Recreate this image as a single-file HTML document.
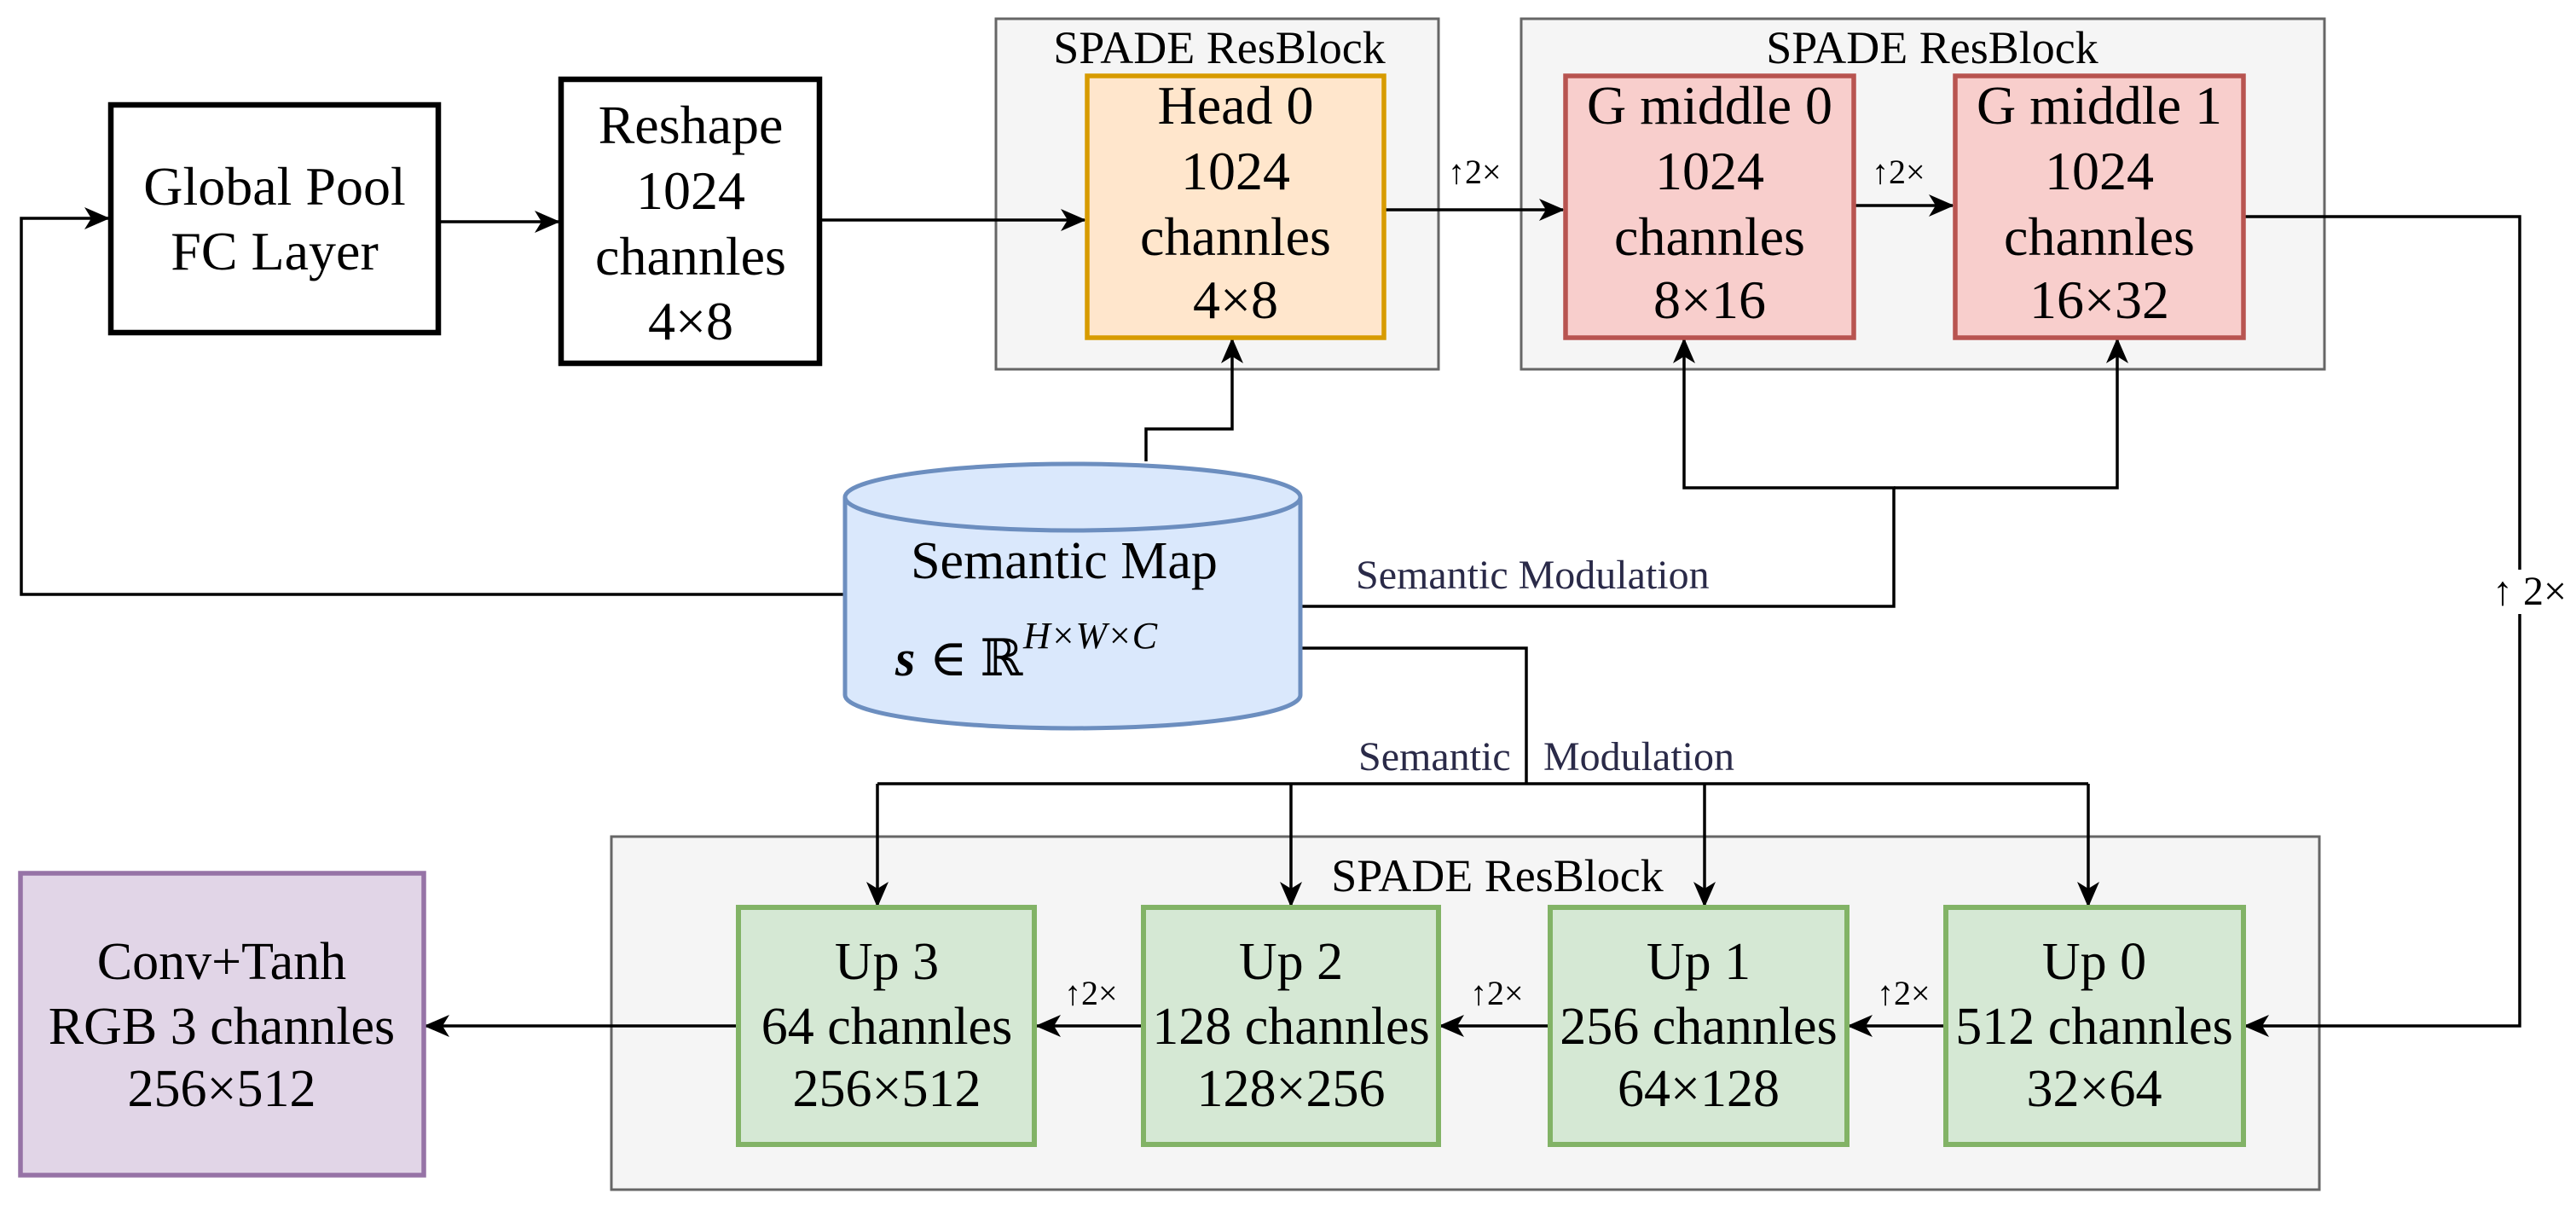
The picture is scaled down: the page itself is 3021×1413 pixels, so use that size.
<!DOCTYPE html>
<html><head><meta charset="utf-8"><style>
html,body{margin:0;padding:0;background:#fff;}
svg{display:block;font-family:"Liberation Serif","DejaVu Serif",serif;}
svg text, svg tspan{font-family:"Liberation Serif","DejaVu Serif",serif;}
</style></head><body>
<svg width="3021" height="1413" viewBox="0 0 3021 1413" xmlns="http://www.w3.org/2000/svg" font-family="Liberation Serif, serif">
<defs>
<marker id="a" viewBox="0 0 30 30" refX="28" refY="15" markerWidth="30" markerHeight="30" markerUnits="userSpaceOnUse" orient="auto">
<path d="M0,2 L30,15 L0,28 L8,15 Z" fill="#000"/>
</marker>
</defs>
<rect width="3021" height="1413" fill="#fff"/>

<rect x="1168" y="22" width="519" height="411" fill="#f5f5f5" stroke="#666" stroke-width="3"/>
<rect x="1784" y="22" width="942" height="411" fill="#f5f5f5" stroke="#666" stroke-width="3"/>
<rect x="717" y="981" width="2003" height="414" fill="#f5f5f5" stroke="#666" stroke-width="3"/>
<text x="1430" y="74" font-size="54" text-anchor="middle" font-family="Liberation Serif, serif">SPADE ResBlock</text>
<text x="2266" y="74" font-size="54" text-anchor="middle" font-family="Liberation Serif, serif">SPADE ResBlock</text>
<text x="1756" y="1045" font-size="54" text-anchor="middle" font-family="Liberation Serif, serif">SPADE ResBlock</text>

<g stroke="#000" stroke-width="3.5" fill="none">
<path d="M1040,697 H25 V256 H127" marker-end="url(#a)"/>
<path d="M514,260 H655" marker-end="url(#a)"/>
<path d="M961,258 H1272" marker-end="url(#a)"/>
<path d="M1623,246 H1833" marker-end="url(#a)"/>
<path d="M2174,241 H2290" marker-end="url(#a)"/>
<path d="M2631,254 H2955 V668"/>
<path d="M2955,720 V1203 H2633" marker-end="url(#a)"/>
<path d="M1344,541 V503 H1445 V398" marker-end="url(#a)"/>
<path d="M1526,711 H2221 V572 H1975 V398" marker-end="url(#a)"/>
<path d="M2221,572 H2483 V398" marker-end="url(#a)"/>
<path d="M1526,760 H1790 V919"/>
<path d="M1029,919 H2449"/>
<path d="M1029,919 V1062" marker-end="url(#a)"/>
<path d="M1514,919 V1062" marker-end="url(#a)"/>
<path d="M1999,919 V1062" marker-end="url(#a)"/>
<path d="M2449,919 V1062" marker-end="url(#a)"/>
<path d="M2282,1203 H2168" marker-end="url(#a)"/>
<path d="M1818,1203 H1689" marker-end="url(#a)"/>
<path d="M1340,1203 H1216" marker-end="url(#a)"/>
<path d="M866,1203 H499" marker-end="url(#a)"/>
</g>

<rect x="130" y="123" width="384" height="267" fill="#fff" stroke="#000" stroke-width="6.5"/>
<text font-size="64" text-anchor="middle" x="322" y="240" font-family="Liberation Serif, serif">Global Pool</text>
<text font-size="64" text-anchor="middle" x="322" y="316" font-family="Liberation Serif, serif">FC Layer</text>

<rect x="658" y="93" width="303" height="333" fill="#fff" stroke="#000" stroke-width="6.5"/>
<g font-size="64" text-anchor="middle" font-family="Liberation Serif, serif">
<text x="810" y="168">Reshape</text><text x="810" y="245">1024</text><text x="810" y="322">channles</text><text x="810" y="398">4×8</text>
</g>

<rect x="1275" y="89" width="348" height="307" fill="#ffe6cc" stroke="#d79b00" stroke-width="5.5"/>
<g font-size="64" text-anchor="middle" font-family="Liberation Serif, serif">
<text x="1449" y="145">Head 0</text><text x="1449" y="222">1024</text><text x="1449" y="299">channles</text><text x="1449" y="373">4×8</text>
</g>

<rect x="1836" y="89" width="338" height="307" fill="#f8cecc" stroke="#b85450" stroke-width="5.5"/>
<g font-size="64" text-anchor="middle" font-family="Liberation Serif, serif">
<text x="2005" y="145">G middle 0</text><text x="2005" y="222">1024</text><text x="2005" y="299">channles</text><text x="2005" y="373">8×16</text>
</g>

<rect x="2293" y="89" width="338" height="307" fill="#f8cecc" stroke="#b85450" stroke-width="5.5"/>
<g font-size="64" text-anchor="middle" font-family="Liberation Serif, serif">
<text x="2462" y="145">G middle 1</text><text x="2462" y="222">1024</text><text x="2462" y="299">channles</text><text x="2462" y="373">16×32</text>
</g>

<rect x="24" y="1024" width="473" height="354" fill="#e1d5e7" stroke="#9673a6" stroke-width="5.5"/>
<g font-size="62" text-anchor="middle" font-family="Liberation Serif, serif">
<text x="260" y="1148">Conv+Tanh</text><text x="260" y="1224">RGB 3 channles</text><text x="260" y="1297">256×512</text>
</g>

<g fill="#d5e8d4" stroke="#82b366" stroke-width="6">
<rect x="866" y="1064" width="347" height="278"/>
<rect x="1341" y="1064" width="346" height="278"/>
<rect x="1818" y="1064" width="348" height="278"/>
<rect x="2282" y="1064" width="349" height="278"/>
</g>
<g font-size="62" text-anchor="middle" font-family="Liberation Serif, serif">
<text x="1040" y="1148">Up 3</text><text x="1040" y="1224">64 channles</text><text x="1040" y="1297">256×512</text>
<text x="1514" y="1148">Up 2</text><text x="1514" y="1224">128 channles</text><text x="1514" y="1297">128×256</text>
<text x="1992" y="1148">Up 1</text><text x="1992" y="1224">256 channles</text><text x="1992" y="1297">64×128</text>
<text x="2456" y="1148">Up 0</text><text x="2456" y="1224">512 channles</text><text x="2456" y="1297">32×64</text>
</g>

<path d="M991,583 V815 A267,39 0 0 0 1525,815 V583" fill="#dae8fc" stroke="#6c8ebf" stroke-width="5"/>
<ellipse cx="1258" cy="583" rx="267" ry="39" fill="#dae8fc" stroke="#6c8ebf" stroke-width="5"/>
<text x="1248" y="678" font-size="62" text-anchor="middle" font-family="Liberation Serif, serif">Semantic Map</text>
<g font-family="Liberation Serif, serif">
<text x="1050" y="792" font-size="60" font-style="italic" font-weight="bold">s</text>
<text x="1090" y="792" font-size="60">∈ ℝ</text>
<text x="1200" y="760" font-size="44" font-style="italic">H×W×C</text>
</g>

<g font-size="48" fill="#2a2a48" font-family="Liberation Serif, serif">
<text x="1590" y="690">Semantic Modulation</text>
<text x="1593" y="903">Semantic</text>
<text x="1810" y="903">Modulation</text>
</g>
<g font-size="40" font-family="Liberation Serif, serif">
<text x="1698" y="215">↑2×</text>
<text x="2195" y="215">↑2×</text>
<text x="1248" y="1178">↑2×</text>
<text x="1724" y="1178">↑2×</text>
<text x="2201" y="1178">↑2×</text>
<text x="2923" y="709" font-size="48">↑ 2×</text>
</g>
</svg>
</body></html>
